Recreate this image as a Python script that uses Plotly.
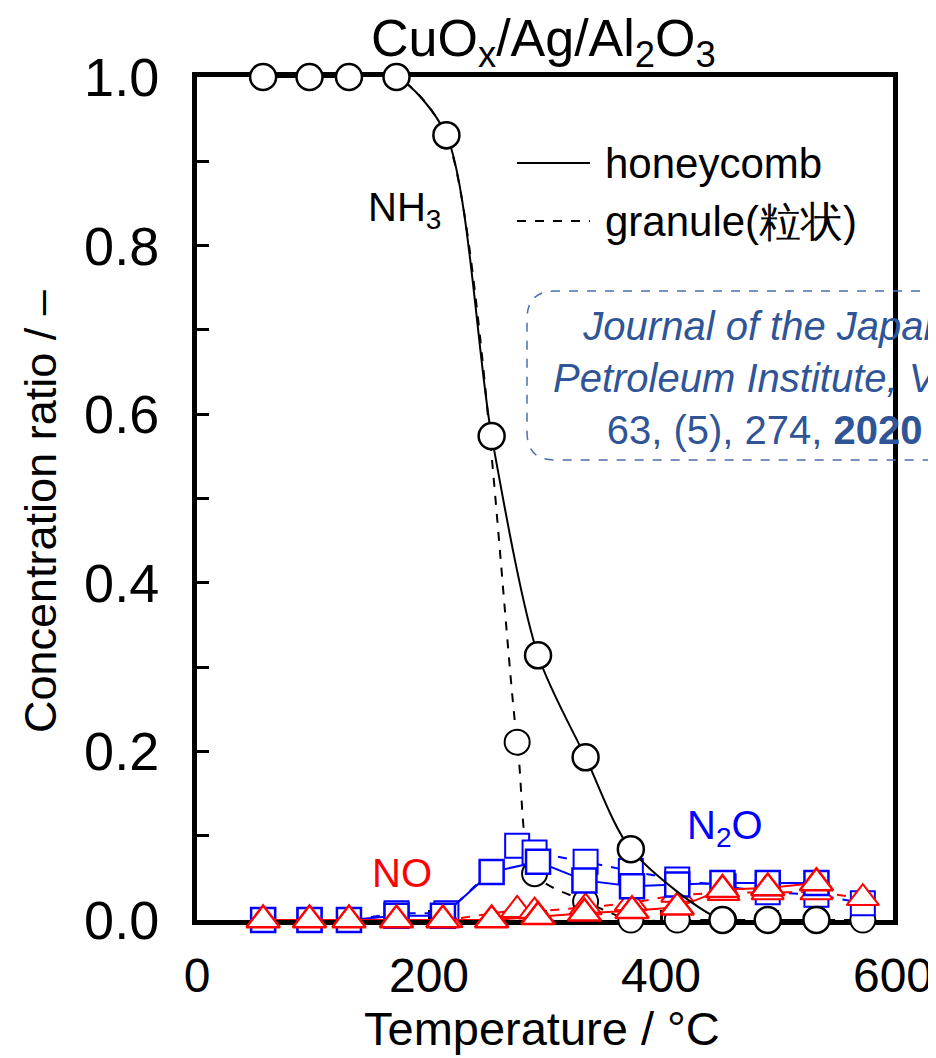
import plotly.graph_objects as go

# ---------------- data ----------------
t_honey_nh3 = [57, 97, 131, 172, 215, 254, 294, 335, 374, 453, 492, 534]
honey_nh3 = [1.0, 1.0, 1.0, 1.0, 0.931, 0.574, 0.314, 0.193, 0.084, 0.0, 0.0, 0.0]

t_honey = [57, 97, 131, 172, 212, 254, 294, 334, 375, 414, 453, 492, 534]
honey_n2o = [0.0, 0.0, 0.0, 0.005, 0.005, 0.057, 0.069, 0.047, 0.040, 0.042, 0.044, 0.044, 0.044]
honey_no = [0.0, 0.0, 0.0, 0.0, 0.0, 0.0, 0.004, 0.008, 0.011, 0.015, 0.036, 0.038, 0.044]

t_gran = [57, 97, 131, 172, 215, 276, 291, 335, 374, 414, 454, 492, 534, 574]
gran_nh3 = [1.0, 1.0, 1.0, 1.0, 0.93, 0.211, 0.055, 0.022, 0.0, 0.0, 0.0, 0.0, 0.0, 0.0]
gran_n2o = [0.0, 0.0, 0.0, 0.008, 0.008, 0.088, 0.080, 0.069, 0.058, 0.048, 0.040, 0.033, 0.030, 0.020]
gran_no = [0.0, 0.0, 0.0, 0.0, 0.0, 0.012, 0.010, 0.015, 0.020, 0.030, 0.032, 0.033, 0.033, 0.026]

x_ticks = [0, 200, 400, 600]
y_ticks = [0.0, 0.2, 0.4, 0.6, 0.8, 1.0]
y_tick_text = ["0.0", "0.2", "0.4", "0.6", "0.8", "1.0"]

BLUE = "#0000FF"
RED = "#FF0000"
FONT = "Liberation Sans, Arial, sans-serif"
JCOL = "#2F5597"

fig = go.Figure()

def add(x, y, color, symbol, size, dash, shape="linear", lw=2, mlw=2.5):
    fig.add_trace(go.Scatter(
        x=x, y=y, mode="lines+markers", cliponaxis=False, showlegend=False,
        line=dict(color=color, width=lw, dash=dash, shape=shape, smoothing=0.8),
        marker=dict(symbol=symbol, size=size, color="white",
                    line=dict(color=color, width=mlw)),
    ))

# granule (dashed)
add(t_gran, gran_nh3, "black", "circle", 25, "dash", "spline", mlw=2)
add(t_gran, gran_n2o, BLUE, "square", 24, "dash", mlw=2)
add(t_gran, gran_no, RED, "triangle-up", 28, "dash", mlw=2)
# honeycomb (solid)
add(t_honey, honey_n2o, BLUE, "square", 24, "solid")
add(t_honey, honey_no, RED, "triangle-up", 29, "solid")
add(t_honey_nh3, honey_nh3, "black", "circle", 26, "solid", "spline")

# page is drawn with an 8px body offset
OFF = 8
W, H = 936, 1058
PL, PR, PT, PB = 197, 893, 77, 920        # plot area in page pixels
L = PL - OFF
T = PT - OFF
R = W - (PR - OFF)
B = H - (PB - OFF)
pw, ph = PR - PL, PB - PT

def px(xp):
    return (xp - PL) / pw

def py(yp):
    return (PB - yp) / ph

shapes = []
# legend lines
shapes.append(dict(type="line", xref="paper", yref="paper", x0=px(517), x1=px(590),
                   y0=py(163), y1=py(163), line=dict(color="black", width=2)))
shapes.append(dict(type="line", xref="paper", yref="paper", x0=px(517), x1=px(590),
                   y0=py(221), y1=py(221), line=dict(color="black", width=2, dash="dash")))
# journal rounded dashed box
x0, x1 = px(527), px(1010)
yt, yb = py(291), py(460)
rx, ry = 28 / pw, 28 / ph
path = (f"M{x1},{yt} L{x0 + rx},{yt} Q{x0},{yt} {x0},{yt - ry} "
        f"L{x0},{yb + ry} Q{x0},{yb} {x0 + rx},{yb} L{x1},{yb}")
shapes.append(dict(type="path", xref="paper", yref="paper", path=path,
                   line=dict(color="#4A6FB0", width=1.5, dash="dash")))

ann = []
ann.append(dict(xref="paper", yref="paper", x=px(603), y=py(163), xanchor="left",
                yanchor="middle", text="honeycomb", showarrow=False,
                font=dict(size=42, color="black", family=FONT)))
ann.append(dict(xref="paper", yref="paper", x=px(603), y=py(221), xanchor="left",
                yanchor="middle", text="granule(粒状)", showarrow=False,
                font=dict(size=42, color="black", family=FONT)))
ann.append(dict(xref="paper", yref="paper", x=px(764), y=py(378), xanchor="center",
                yanchor="middle", align="center", showarrow=False,
                text="<i>Journal of the Japan</i><br><i>Petroleum Institute, Vol.</i><br>63, (5), 274, <b>2020</b>",
                font=dict(size=40, color=JCOL, family=FONT)))
ann.append(dict(xref="paper", yref="paper", x=px(543), y=py(42), xanchor="center",
                yanchor="middle", showarrow=False,
                text="CuO<sub>x</sub>/Ag/Al<sub>2</sub>O<sub>3</sub>",
                font=dict(size=52, color="black", family=FONT)))
ann.append(dict(xref="paper", yref="paper", x=px(542), y=py(1029), xanchor="center",
                yanchor="middle", showarrow=False, text="Temperature / °C",
                font=dict(size=47, color="black", family=FONT)))
ann.append(dict(xref="paper", yref="paper", x=px(40), y=py(512), xanchor="center",
                yanchor="middle", showarrow=False, textangle=-90,
                text="Concentration ratio / –",
                font=dict(size=45, color="black", family=FONT)))
ann.append(dict(xref="x", yref="y", x=179, y=0.842, showarrow=False,
                text="NH<sub>3</sub>", font=dict(size=40, color="black", family=FONT)))
ann.append(dict(xref="x", yref="y", x=177, y=0.056, showarrow=False,
                text="NO", font=dict(size=40, color=RED, family=FONT)))
ann.append(dict(xref="x", yref="y", x=455, y=0.109, showarrow=False,
                text="N<sub>2</sub>O", font=dict(size=40, color=BLUE, family=FONT)))

fig.update_layout(
    width=W, height=H,
    margin=dict(l=L, r=R, t=T, b=B, pad=0, autoexpand=False),
    paper_bgcolor="white", plot_bgcolor="white",
    shapes=shapes, annotations=ann, showlegend=False,
    font=dict(family=FONT, color="black"),
)
fig.update_xaxes(
    range=[0, 600], showgrid=False, zeroline=False, automargin=False,
    showline=True, mirror=True, linecolor="black", linewidth=5,
    ticks="inside", ticklen=10, tickwidth=3, tickcolor="black",
    tickvals=x_ticks, ticktext=[str(v) for v in x_ticks],
    minor=dict(dtick=100, ticks="inside", ticklen=10, tickwidth=3, tickcolor="black"),
    tickfont=dict(size=48, family=FONT, color="black"),
    ticklabelstandoff=9, layer="below traces",
)
fig.update_yaxes(
    range=[0, 1], showgrid=False, zeroline=False, automargin=False,
    showline=True, mirror=True, linecolor="black", linewidth=5,
    ticks="inside", ticklen=12, tickwidth=3, tickcolor="black",
    tickvals=y_ticks, ticktext=y_tick_text,
    minor=dict(dtick=0.1, ticks="inside", ticklen=12, tickwidth=3, tickcolor="black"),
    tickfont=dict(size=54, family=FONT, color="black"),
    ticklabelstandoff=22, layer="below traces",
)

fig.write_html("out.html")
